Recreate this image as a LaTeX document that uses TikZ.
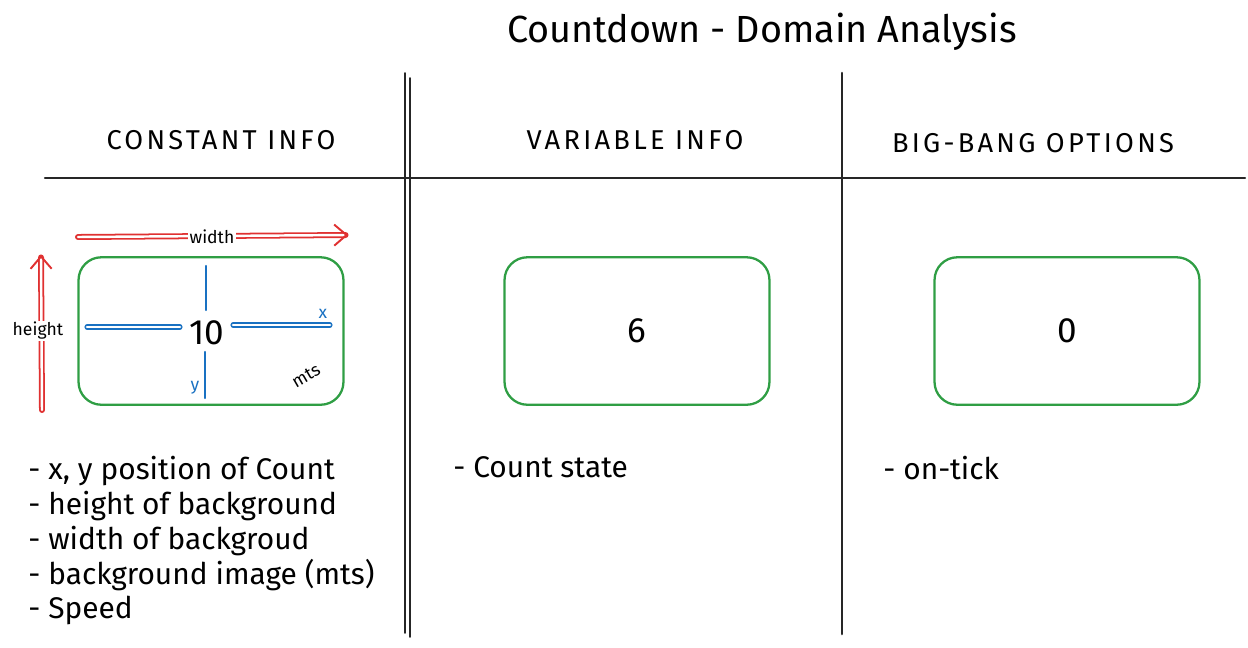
\documentclass[tikz,border=0pt]{standalone}
\usepackage{fontspec}
\setmainfont{Fira Sans}
\newfontfamily\headfont[LetterSpace=12]{Fira Sans}
\usetikzlibrary{positioning,arrows.meta}

\definecolor{boxgreen}{HTML}{2F9E44}
\definecolor{arrowred}{HTML}{E03131}
\definecolor{axisblue}{HTML}{1971C2}

\begin{document}
\begin{tikzpicture}[
	x = 0.02cm, y = -0.02cm, % pixel grid
	line cap = round,
	font = \large
	]
	
	\tikzstyle{countbox}=[
	draw = boxgreen,
	line width = 1.3pt,
	rounded corners = 13pt,
	minimum width = 5.3cm,
	minimum height = 2.95cm,
	inner sep = 0pt,
	font = \fontsize{20}{24}\selectfont
	]
	\tikzstyle{heading}=[font=\headfont\fontsize{15.5}{18}\selectfont]
	\tikzstyle{divider}=[draw = black!85, line width = 1.4pt]
	\tikzstyle{sizearrow}=[draw = arrowred, line width = 1pt, double distance = 1.4pt,
	-{Straight Barb[length=7pt, width=12pt, line width=1.1pt]}]
	\tikzstyle{axis}=[draw = axisblue, line width = 1.4pt]
	\tikzstyle{notes}=[align=left, anchor=north west, inner sep=0pt,
	font=\fontsize{17}{19.8}\selectfont]
	
	\useasboundingbox (0,0) rectangle (1248,647);
	
	% title
	\node (title) at (762,32) {\fontsize{21.5}{24}\selectfont Countdown - Domain Analysis};
	
	% table lines
	\draw[divider] (45,178) -- (1245,178);
	\draw[divider, line width=0.9pt] (405,73) -- (405,633);
	\draw[divider, line width=0.9pt] (410,78) -- (410,637);
	\draw[divider, line width=1.5pt] (842,73) -- (842,634);
	
	% headings
	\node[heading] (hConst) at (221,140) {CONSTANT INFO};
	\node[heading] (hVar) at (635,140) {VARIABLE INFO};
	\node[heading] (hBig) at (1033,143) {BIG-BANG OPTIONS};
	
	% boxes
	\node[countbox] (bConst) at (211,331) {};
	\node (ten) at (207,333) {\fontsize{20}{24}\selectfont 10};
	\node[countbox] (bVar) at (637,331) {6};
	\node[countbox] (bBig) at (1067,331) {0};
	
	% axes inside constant box
	\coordinate (xL) at (87,327);
	\coordinate (xLi) at (180,327);
	\coordinate (xRi) at (233,325);
	\coordinate (xR) at (330,325);
	\coordinate (yT) at (206,266);
	\coordinate (yTi) at (206,310);
	\coordinate (yBi) at (205,352);
	\coordinate (yB) at (205,398);
	\draw[axis, double distance=1.5pt, line width=0.7pt] (xL) -- (xLi);
	\draw[axis, double distance=1.5pt, line width=0.7pt] (xRi) -- (xR);
	\draw[axis] (yT) -- (yTi);
	\draw[axis] (yBi) -- (yB);
	\node[text=axisblue, font=\normalsize] (xLabel) at (323,314) {x};
	\node[text=axisblue, font=\normalsize] (yLabel) at (195,388) {y};
	\node[rotate=30, font=\normalsize, inner sep=0pt] (mts) at (306,376) {mts};
	
	% size arrows
	\coordinate (wStart) at (78,237);
	\coordinate (wEnd) at (348,235);
	\coordinate (hStart) at (42,410);
	\coordinate (hEnd) at (41,255);
	\draw[sizearrow] (wStart) -- (wEnd);
	\draw[sizearrow] (hStart) -- (hEnd);
	\node[fill=white, inner sep=1pt, font=\normalsize] (wLabel) at (212,237) {width};
	\node[fill=white, inner sep=1pt, font=\normalsize] (hLabel) at (38,331) {height};
	
	% notes
	\node[notes] (nConst) at (28,456) {- x, y position of Count\\- height of background\\- width of backgroud\\- background image (mts)\\- Speed};
	\node[notes] (nVar) at (453,456) {- Count state};
	\node[notes] (nBig) at (883,456) {- on-tick};
	
\end{tikzpicture}
\end{document}
